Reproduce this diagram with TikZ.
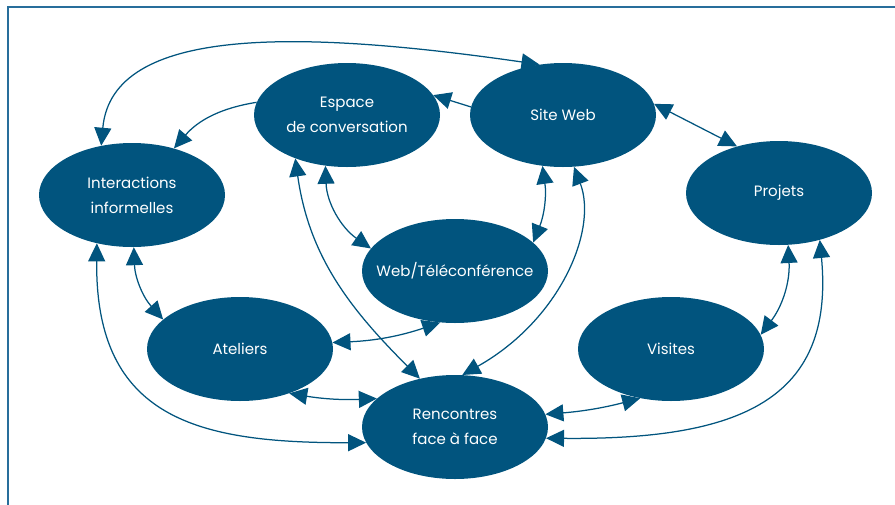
\documentclass[tikz,border=0pt]{standalone}
\usepackage{fontspec}
\setmainfont{Poppins}
\usetikzlibrary{shapes.geometric,arrows.meta}
\definecolor{ellblue}{RGB}{1,84,126}
\definecolor{framec}{RGB}{40,110,155}
\begin{document}
\begin{tikzpicture}[x=1pt,y=1pt,
  bubble/.style={ellipse, fill=ellblue, draw=none, minimum width=186pt, minimum height=104pt, inner sep=0pt, text=white, align=center, font=\fontsize{15}{25}\selectfont},
  conn/.style={draw=ellblue, line width=1.25pt},
  two/.style={conn, {Triangle[length=18pt,width=17pt]}-{Triangle[length=18pt,width=17pt]}},
  one/.style={conn, -{Triangle[length=18pt,width=17pt]}}]
\useasboundingbox (0,0) rectangle (895,-504);
\draw[framec, line width=1.5pt] (8,-520) -- (8,-7) -- (910,-7);

\node[bubble] (inter) at (132,-195) {Interactions\\informelles};
\node[bubble] (espace) at (347,-115) {Espace\\de conversation};
\node[bubble] (site) at (563,-115) {Site Web};
\node[bubble] (proj) at (779,-193) {Projets};
\node[bubble, inner xsep=-40pt] (webtel) at (455,-271) {Web/Téléconférence};
\node[bubble] (atel) at (240,-349) {Ateliers};
\node[bubble] (visit) at (671,-349) {Visites};
\node[bubble] (renc) at (455,-427) {Rencontres\\face à face};

\draw[two] (inter.122) .. controls (112,-25) and (300,-30) .. (site.115);
\draw[one] (espace.172) to[bend right=20] (inter.48);
\draw[one] (site.175) -- (espace.13);
\draw[two] (site.7) -- (proj.132);
\draw[two] (espace.247) to[out=-88,in=145] (webtel.165);
\draw[two] (site.248) to[bend left=15] (webtel.20);
\draw[two] (site.282) .. controls (598,-230) and (560,-320) .. (renc.82);
\draw[two] (espace.220) to[out=-82,in=135] (renc.126);
\draw[two] (inter.272) to[bend right=20] (atel.159);
\draw[two] (inter.234) .. controls (95,-420) and (200,-443) .. (renc.190);
\draw[two] (atel.318) to[bend right=6] (renc.160);
\draw[two] (atel.4) to[bend right=8] (webtel.254);
\draw[two] (renc.8) to[bend right=5] (visit.238);
\draw[two] (renc.353) .. controls (740,-440) and (835,-400) .. (proj.311);
\draw[two] (proj.280) to[bend left=20] (visit.9);
\end{tikzpicture}
\end{document}
